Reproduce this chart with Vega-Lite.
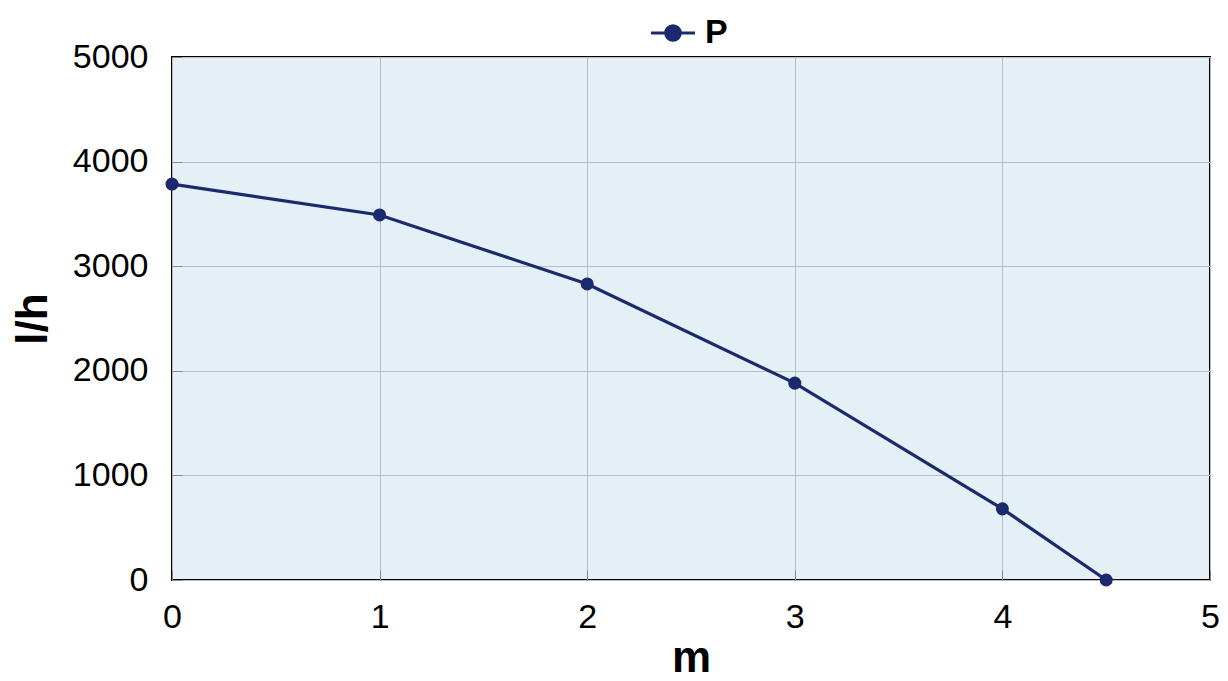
{
  "$schema": "https://vega.github.io/schema/vega-lite/v6.json",
  "width": 1038,
  "height": 523,
  "autosize": {"type": "none"},
  "padding": {"left": 172, "top": 57, "right": 18, "bottom": 101},
  "background": "white",
  "config": {
    "font": "Liberation Sans",
    "view": {"fill": "#e4eff6", "stroke": "#000000", "strokeWidth": 2},
    "axis": {
      "domain": false,
      "grid": true,
      "gridColor": "#b9bcc4",
      "gridWidth": 1,
      "tickColor": "#888888",
      "tickSize": -10,
      "labelFont": "Liberation Sans",
      "labelFontSize": 34,
      "labelColor": "#000000",
      "titleFont": "Liberation Sans",
      "titleFontSize": 44,
      "titleFontWeight": "bold",
      "titleColor": "#000000"
    }
  },
  "data": {
    "values": [
      {"m": 0, "lh": 3785, "s": "P"},
      {"m": 1, "lh": 3490, "s": "P"},
      {"m": 2, "lh": 2830, "s": "P"},
      {"m": 3, "lh": 1882, "s": "P"},
      {"m": 4, "lh": 680, "s": "P"},
      {"m": 4.5, "lh": 0, "s": "P"}
    ]
  },
  "mark": {"type": "line", "strokeWidth": 3.2, "point": {"filled": true, "size": 170, "opacity": 1}},
  "encoding": {
    "x": {
      "field": "m", "type": "quantitative", "title": "m",
      "scale": {"domain": [0, 5], "nice": false, "zero": false},
      "axis": {"values": [0, 1, 2, 3, 4, 5], "format": "d", "labelPadding": 30, "titlePadding": 2, "labelFlush": false}
    },
    "y": {
      "field": "lh", "type": "quantitative", "title": "l/h",
      "scale": {"domain": [0, 5000], "nice": false},
      "axis": {"values": [0, 1000, 2000, 3000, 4000, 5000], "format": "d", "labelPadding": 34, "titlePadding": 17, "labelFlush": false}
    },
    "color": {
      "field": "s", "type": "nominal",
      "scale": {"range": ["#1a2a6c"]},
      "legend": {
        "title": null,
        "orient": "none",
        "legendX": 477,
        "legendY": -48,
        "symbolType": "M-1,0H1M-0.33,0a0.33,0.33 0 1,0 0.66,0a0.33,0.33 0 1,0 -0.66,0Z",
        "symbolSize": 1936,
        "symbolStrokeWidth": 3.2,
        "symbolFillColor": "#1a2a6c",
        "symbolStrokeColor": "#1a2a6c",
        "labelFontSize": 34,
        "labelFontWeight": "bold",
        "labelColor": "#000000",
        "labelFont": "Liberation Sans",
        "labelOffset": 8
      }
    }
  }
}
